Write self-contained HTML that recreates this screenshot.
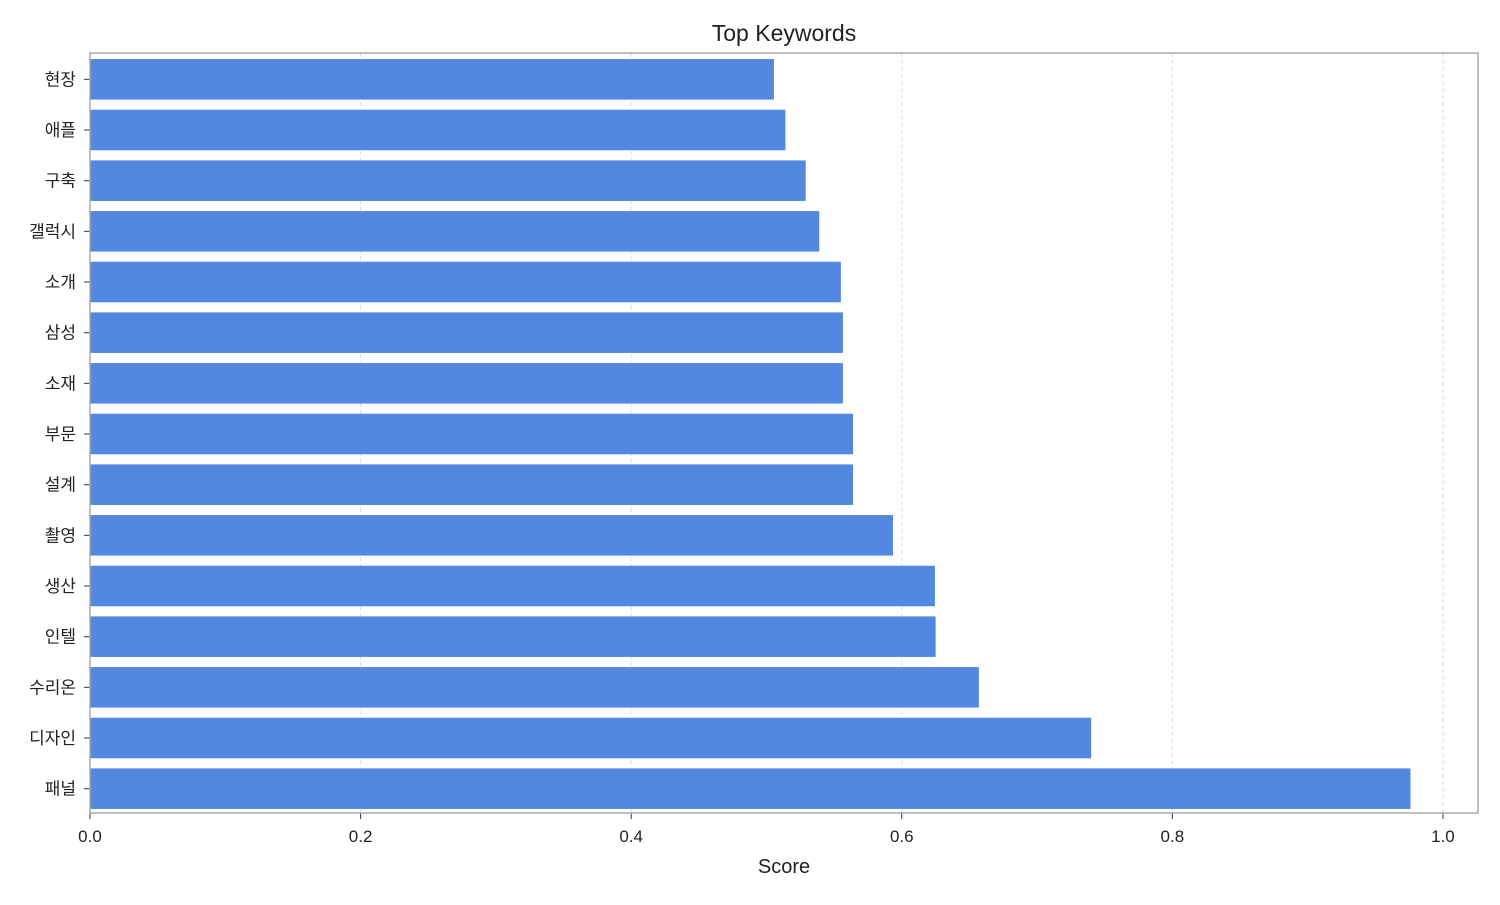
<!DOCTYPE html>
<html><head><meta charset="utf-8"><style>
html,body{margin:0;padding:0;background:#fff;}
svg text{font-family:"Liberation Sans","Noto Sans CJK KR",sans-serif;fill:#222;}
</style></head><body>
<svg id="chart" width="1500" height="900" xmlns="http://www.w3.org/2000/svg">
<text x="784" y="41" font-size="23" text-anchor="middle">Top Keywords</text>
<g id="grid"></g><g id="bars"></g><g id="yaxis"></g><g id="xaxis"></g>
<rect x="90" y="53" width="1388" height="760" fill="none" stroke="#aaa" stroke-width="1.5"/>
<text x="784" y="873" font-size="20" text-anchor="middle">Score</text>
</svg>
<script>
const categories=["현장","애플","구축","갤럭시","소개","삼성","소재","부문","설계","촬영","생산","인텔","수리온","디자인","패널"];
const scores=[0.5055,0.514,0.529,0.539,0.555,0.5565,0.5565,0.564,0.564,0.5935,0.6245,0.625,0.657,0.740,0.976];
const xTicks=[0,0.2,0.4,0.6,0.8,1.0];
const xTickLabels=["0.0","0.2","0.4","0.6","0.8","1.0"];
const NS="http://www.w3.org/2000/svg";
const L=90,T=53,W=1388,H=760,XMAX=1.0259;
const x=v=>L+v/XMAX*W;
const step=H/categories.length;
const y=i=>T+1+step*(i+0.5);
function mk(t,a,p){const e=document.createElementNS(NS,t);for(const k in a)e.setAttribute(k,a[k]);p.appendChild(e);return e;}
const g=document.getElementById('grid'),b=document.getElementById('bars'),ya=document.getElementById('yaxis'),xa=document.getElementById('xaxis');
xTicks.forEach((t,i)=>{
 const gl=mk('line',{x1:x(t),x2:x(t),y1:T,y2:T+H,stroke:'#ddd','stroke-dasharray':'4,3','stroke-width':1},g);
 
 
 const tk=mk('line',{x1:x(t),x2:x(t),y1:T+H,y2:T+H+6,stroke:'#333'},xa);
 
 
 const tl=mk('text',{x:x(t),y:T+H+29,'font-size':17,'text-anchor':'middle'},xa);
 tl.textContent=xTickLabels[i];
 
 
});
categories.forEach((c,i)=>{
 const r=mk('rect',{x:L,y:y(i)-step*0.4,width:x(scores[i])-L,height:step*0.8,fill:'#5288e0'},b);
 
 
 const tk=mk('line',{x1:L-6,x2:L,y1:y(i),y2:y(i),stroke:'#333'},ya);
 
 
 const tl=mk('text',{x:L-14,y:y(i)+6,'font-size':17,'text-anchor':'end'},ya);
 tl.textContent=c;
 
 
});
</script>
</body></html>
